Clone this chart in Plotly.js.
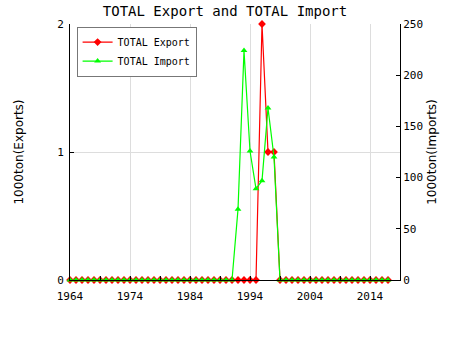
<!DOCTYPE html>
<html><head><meta charset="utf-8">
<script src="https://cdn.plot.ly/plotly-3.0.1.min.js"></script>
<style>html,body{margin:0;padding:0;background:#fff}#c{width:450px;height:350px}</style>
</head><body><div id="c"></div>
<script>
var years = [];
for (var y = 1964; y <= 2017; y++) years.push(y);
var exportNonZero = {1996: 2, 1997: 1, 1998: 1};
var importNonZero = {1992: 69, 1993: 224, 1994: 126, 1995: 89, 1996: 97, 1997: 168, 1998: 120};
var exportVals = years.map(function(y){ return exportNonZero[y] || 0; });
var importVals = years.map(function(y){ return importNonZero[y] || 0; });
var leftTicks = [0, 1, 2];

var mono = 'DejaVu Sans Mono';
var traces = [
  {x: years, y: exportVals, name: 'TOTAL Export', type: 'scatter', mode: 'lines+markers',
   line: {color: '#ff0000', width: 1.2}, marker: {symbol: 'diamond', size: 6, color: '#ff0000'},
   cliponaxis: false, yaxis: 'y'},
  {x: years, y: importVals, name: 'TOTAL Import', type: 'scatter', mode: 'lines+markers',
   line: {color: '#00ff00', width: 1.2}, marker: {symbol: 'triangle-up', size: 6, color: '#00ff00'},
   cliponaxis: false, yaxis: 'y2'}
];
var layout = {
  width: 450, height: 350,
  margin: {l: 70, r: 50, t: 24, b: 70},
  paper_bgcolor: '#fff', plot_bgcolor: '#fff',
  title: {text: 'TOTAL Export and TOTAL Import', font: {family: mono, size: 14, color: '#000'}, x: 0.5, xanchor: 'center', y: 0.968, yanchor: 'middle'},
  showlegend: true,
  legend: {x: 0.02, y: 0.99, xanchor: 'left', yanchor: 'top', bgcolor: '#fff', bordercolor: '#777', borderwidth: 1,
           font: {family: mono, size: 10, color: '#000'}, tracegroupgap: 0, itemwidth: 30},
  xaxis: {range: [1964, 2019], tick0: 1964, dtick: 10, showgrid: true, gridcolor: '#dddddd', zeroline: false,
          showline: true, linecolor: '#000', linewidth: 1, ticks: 'inside', ticklen: 4, tickcolor: '#000',
          minor: {dtick: 5, tick0: 1964, ticks: 'inside', ticklen: 4, tickcolor: '#000', showgrid: false},
          ticklabelstandoff: 6,
          tickfont: {family: mono, size: 11, color: '#000'}},
  yaxis: {range: [0, 2], tickvals: leftTicks, showgrid: true, gridcolor: '#dddddd', zeroline: false,
          showline: true, linecolor: '#000', linewidth: 1, ticks: 'inside', ticklen: 4, tickcolor: '#000',
          ticklabelstandoff: 3,
          tickfont: {family: mono, size: 11, color: '#000'},
          title: {text: '1000ton(Exports)', font: {family: 'DejaVu Sans', size: 12, color: '#000'}, standoff: 30}},
  yaxis2: {range: [0, 250], dtick: 50, overlaying: 'y', side: 'right', showgrid: false, zeroline: false,
          showline: true, linecolor: '#000', linewidth: 1, ticks: 'inside', ticklen: 4, tickcolor: '#000',
          tickfont: {family: mono, size: 11, color: '#000'},
          title: {text: '1000ton(Imports)', font: {family: 'DejaVu Sans', size: 12, color: '#000'}, standoff: 5}}
};
Plotly.newPlot('c', traces, layout, {displayModeBar: false, staticPlot: true});
</script></body></html>
